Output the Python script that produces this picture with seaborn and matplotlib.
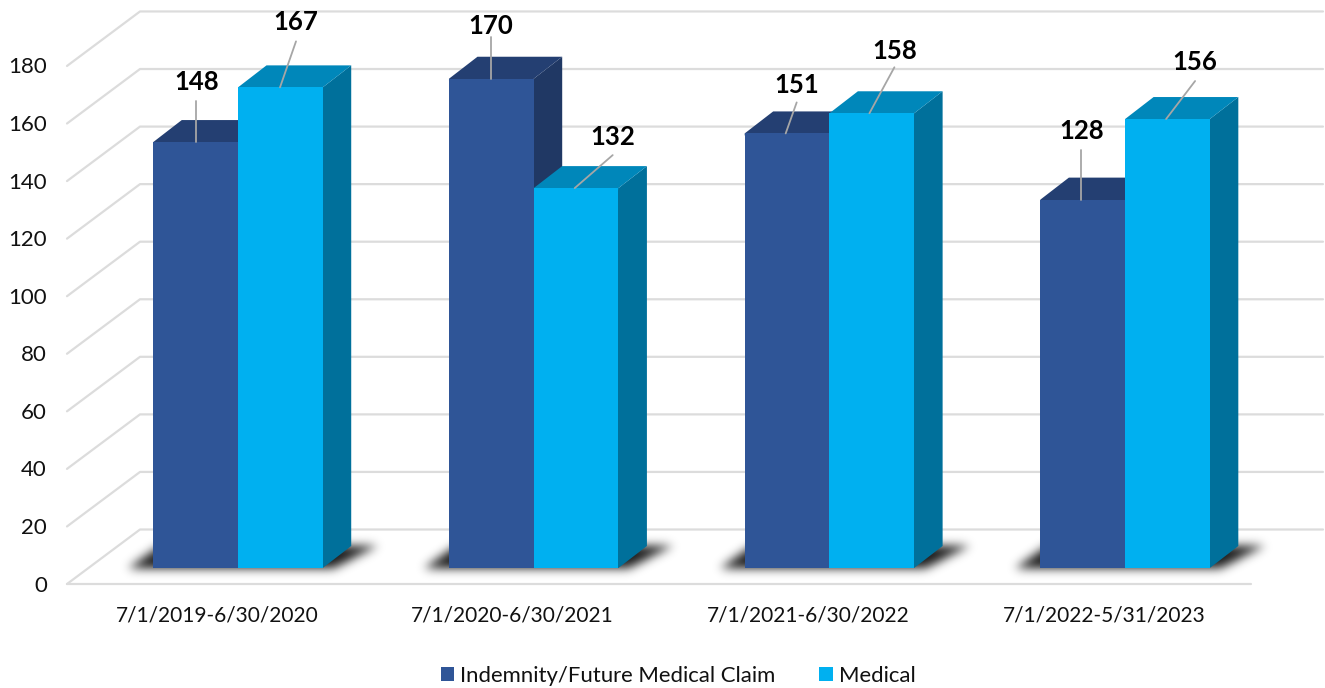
import numpy as np
import pandas as pd
import matplotlib.pyplot as plt
import seaborn as sns
from matplotlib.patches import Patch, Polygon
from matplotlib.path import Path

periods = ["7/1/2019-6/30/2020", "7/1/2020-6/30/2021", "7/1/2021-6/30/2022", "7/1/2022-5/31/2023"]
indemnity = [148, 170, 151, 128]
medical = [167, 132, 158, 156]
y_ticks = [0, 20, 40, 60, 80, 100, 120, 140, 160, 180]
series_names = ["Indemnity/Future Medical Claim", "Medical"]

front_colors = ["#2f5597", "#00b0f0"]
top_colors = ["#243f72", "#0087ba"]
side_colors = ["#203864", "#00709b"]

# pixels of the reference
W, H = 1325, 688
CAT_PX = 295.7
UNIT_PX = 2.878
X0_PX = 238
BASE_PX = 568
DEPTH_X = 28.5
DEPTH_Y = 22

sns.set_theme(style="white")
plt.rcParams["font.family"] = ["Lato", "DejaVu Sans"]

df = pd.DataFrame({
    "period": periods * 2,
    "claims": indemnity + medical,
    "type": [series_names[0]] * 4 + [series_names[1]] * 4,
})

fig = plt.figure(figsize=(W / 100, H / 100), dpi=100)
ax = fig.add_axes([0, 0, 1, 1])
sns.barplot(data=df, x="period", y="claims", hue="type", palette=front_colors,
            width=0.573, saturation=1, legend=False, linewidth=0, zorder=6, ax=ax)
ax.axis("off")


def px_x(x):
    return (x - X0_PX) / CAT_PX


def px_y(y):
    return (BASE_PX - y) / UNIT_PX


dx = DEPTH_X / CAT_PX
dy = DEPTH_Y / UNIT_PX
u = 1 / CAT_PX
v = 1 / UNIT_PX
grid_col = "#dcdcdc"

# walls and floor
for tick in y_ticks:
    back = px_y(529.5) + tick
    front = px_y(584) + tick
    ax.plot([px_x(67), px_x(140), px_x(1323)], [front, back, back], color=grid_col, lw=1.6, zorder=1)
    ax.text(px_x(47), front - 1.5 * v, str(tick), ha="right", va="center", fontsize=16, color="#111111")
ax.plot([px_x(67), px_x(1251)], [px_y(584), px_y(584)], color=grid_col, lw=1.6, zorder=1)

for i, name in enumerate(periods):
    ax.text(px_x(217 + i * CAT_PX), px_y(616), name, ha="center", va="center", fontsize=15, color="#111111")

# soft shadow on the floor under each pair of bars, blurred by hand
kernel = np.exp(-np.arange(-15, 16) ** 2 / (2 * 5.0 ** 2))
kernel = kernel / kernel.sum()
for i in range(4):
    left = ax.containers[0][i].get_x()
    right = left + 2 * ax.containers[0][i].get_width()
    width_px = (right - left) * CAT_PX
    xs, ys = np.meshgrid(np.arange(-60, width_px + 100), np.arange(-30, 50))
    shape = Path([(-26, -1), (6, 22), (width_px + 54, 22), (width_px + 9, -1)])
    mask = shape.contains_points(np.c_[xs.ravel(), ys.ravel()]).reshape(xs.shape).astype(float)
    mask = np.apply_along_axis(lambda r: np.convolve(r, kernel, mode="same"), 0, mask)
    mask = np.apply_along_axis(lambda r: np.convolve(r, kernel, mode="same"), 1, mask)
    rgba = np.zeros(mask.shape + (4,))
    rgba[..., 3] = mask * 0.9
    ax.imshow(rgba, extent=(left + xs.min() * u, left + xs.max() * u, ys.min() * v, ys.max() * v),
              origin="lower", aspect="auto", interpolation="bilinear", zorder=2)

ax.set_xlim(-X0_PX / CAT_PX, (W - X0_PX) / CAT_PX)
ax.set_ylim((BASE_PX - H) / UNIT_PX, BASE_PX / UNIT_PX)

# 3D faces built from the bars seaborn drew
for s, bars in enumerate(ax.containers):
    for bar in bars:
        x0 = bar.get_x()
        x1 = x0 + bar.get_width()
        top = bar.get_height()
        ax.add_patch(Polygon([(x1 - 2 * u, 0), (x1, 0), (x1 + dx, dy), (x1 + dx, top + dy), (x1, top), (x1 - 2 * u, top)],
                             closed=True, facecolor=side_colors[s], lw=0, zorder=3 + s))
        ax.add_patch(Polygon([(x0, top - 2 * v), (x0, top), (x0 + dx, top + dy), (x1 + dx, top + dy), (x1, top), (x1, top - 2 * v)],
                             closed=True, facecolor=top_colors[s], lw=0, zorder=3 + s))

# value labels with leader lines: (start on bar, end of line, text centre) in px from the bar's top left
leaders = [
    [(43, 0, 43, 41, 43, 60), (42, 0, 42, 42, 42, 53), (41, 0, 52, 31, 52, 48), (41, 0, 41, 50, 41, 69)],
    [(42, 0, 58, 46, 58, 65), (41, 0, 79, 33, 79, 51), (40, 0, 65, 46, 65, 62), (41, 0, 70, 38, 70, 57)],
]
for s, bars in enumerate(ax.containers):
    for i, bar in enumerate(bars):
        xb = bar.get_x()
        top = bar.get_height()
        x_a, y_a, x_b, y_b, x_t, y_t = leaders[s][i]
        ax.plot([xb + x_a * u, xb + x_b * u], [top + y_a * v, top + y_b * v], color="#a6a6a6", lw=1.3, zorder=8)
        ax.text(xb + x_t * u, top + y_t * v, str(int(top)), ha="center", va="center",
                fontsize=18.5, fontweight="bold", color="black", zorder=9)

handles = [Patch(facecolor=c, edgecolor="none", label=n) for c, n in zip(front_colors, series_names)]
ax.legend(handles=handles, ncol=2, loc="center", bbox_to_anchor=(678 / W, 1 - 675.5 / H),
          bbox_transform=fig.transFigure, frameon=False, fontsize=15.9, handlelength=0.63,
          handleheight=0.63, handletextpad=0.27, columnspacing=1.95, borderpad=0, labelcolor="#111111")

plt.savefig("out.png", dpi=100)
